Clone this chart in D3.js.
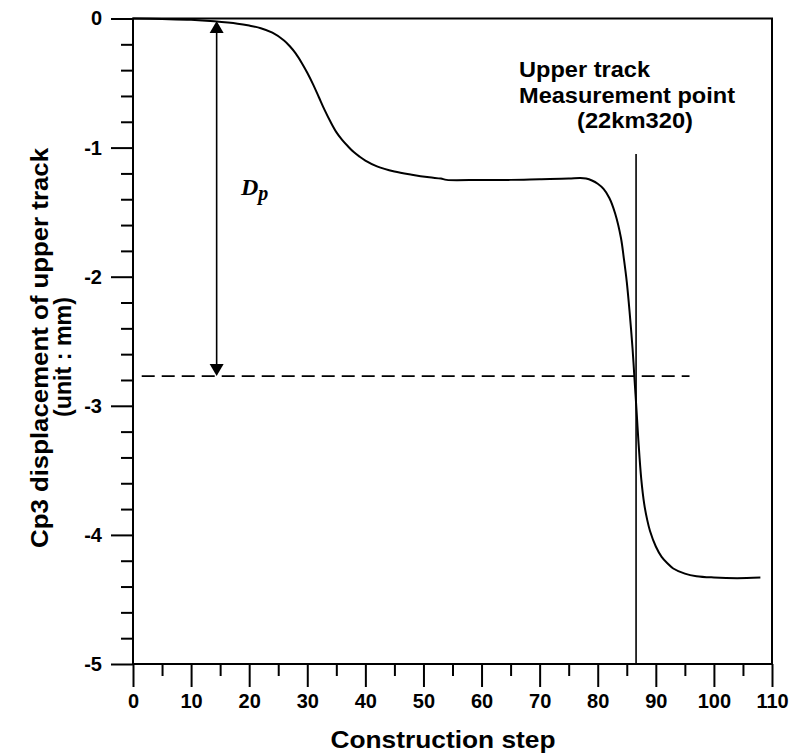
<!DOCTYPE html>
<html>
<head>
<meta charset="UTF-8">
<script src="https://cdn.jsdelivr.net/npm/d3@7"></script>
<style>
body{
  margin:0;
  background-color:#fff;
}
text{
  font-family:"Liberation Sans", Arial, sans-serif;
  font-weight:bold;
}
</style>
</head>
<body>
<script>
// Cp3 settlement of the upper track vs construction step

var steps = [0, 5, 10, 14, 18, 20, 22, 24, 26, 27, 28, 29, 30, 31, 32, 33, 34, 35, 36, 37, 38, 39, 40, 42, 45, 48, 51, 53, 54, 60, 65, 70, 75, 77, 78, 79, 80, 81, 82, 83, 84, 84.5, 85, 85.5, 86, 86.3, 86.7, 87, 87.5, 88, 88.5, 89, 90, 91, 92, 93, 95, 97, 100, 104, 108]
var disp = [0, -0.004, -0.01, -0.022, -0.04, -0.055, -0.075, -0.11, -0.17, -0.215, -0.27, -0.34, -0.42, -0.51, -0.61, -0.71, -0.8, -0.88, -0.94, -0.99, -1.035, -1.07, -1.1, -1.145, -1.185, -1.21, -1.23, -1.24, -1.25, -1.25, -1.25, -1.245, -1.24, -1.235, -1.24, -1.255, -1.28, -1.32, -1.39, -1.51, -1.7, -1.86, -2.04, -2.28, -2.56, -2.77, -3.05, -3.27, -3.57, -3.76, -3.88, -3.97, -4.09, -4.17, -4.22, -4.26, -4.3, -4.32, -4.33, -4.335, -4.33]

var xTicks = [0, 10, 20, 30, 40, 50, 60, 70, 80, 90, 100, 110]
var yTicks = [0, -1, -2, -3, -4, -5]

var measureStep = 86.6     // vertical marker (22km320)
var measureTop = -1.05
var dpLevel = -2.77        // dashed line level
var dashEnd = 95.8
var arrowStep = 14.4
var arrowTop = -0.02

var width = 798, height = 755

var svg = d3.select('body')
    .append('svg')
    .attr('width', width)
    .attr('height', height)

var x = d3.scaleLinear().domain([0, 110]).range([133, 772])
var y = d3.scaleLinear().domain([0, -5]).range([18.5, 664])

// frame
svg.append("rect")
  .attr("x", x(0))
  .attr("y", y(0))
  .attr("width", x(110) - x(0))
  .attr("height", y(-5) - y(0))
  .attr("fill", "none")
  .attr("stroke", "#000")
  .attr("stroke-width", 2)

// axes
var xAxis = svg.append("g")
  .attr("transform", "translate(0," + y(-5) + ")")
xAxis.call(d3.axisBottom(x).tickValues(d3.range(5, 110, 10)).tickSize(12).tickFormat(""))
xAxis.call(g => g.append("g").call(d3.axisBottom(x).tickValues(xTicks).tickSize(23).tickFormat(d3.format("d"))))
xAxis.selectAll(".domain").remove()
xAxis.selectAll("line").attr("stroke", "#000").attr("stroke-width", 2)
xAxis.selectAll("text")
  .attr("fill", "#000")
  .attr("font-size", 20)
  .attr("y", 30)
  .attr("dy", "0.71em")

var minorY = d3.range(0, -5.01, -0.2).filter(v => Math.abs(v - Math.round(v)) > 0.01)
var yAxis = svg.append("g")
  .attr("transform", "translate(" + x(0) + ",0)")
yAxis.call(d3.axisLeft(y).tickValues(minorY).tickSize(12).tickFormat(""))
yAxis.call(g => g.append("g").call(d3.axisLeft(y).tickValues(yTicks).tickSize(22).tickFormat(d => d == 0 ? "0" : "-" + Math.abs(d))))
yAxis.selectAll(".domain").remove()
yAxis.selectAll("line").attr("stroke", "#000").attr("stroke-width", 2)
yAxis.selectAll("text")
  .attr("fill", "#000")
  .attr("font-size", 20)
  .attr("x", -31)

// axis titles
svg.append("text")
  .attr("x", 443)
  .attr("y", 748)
  .attr("text-anchor", "middle")
  .attr("font-size", 24)
  .attr("textLength", 225)
  .attr("lengthAdjust", "spacingAndGlyphs")
  .text("Construction step")

svg.append("text")
  .attr("transform", "translate(48,348) rotate(-90)")
  .attr("text-anchor", "middle")
  .attr("font-size", 24)
  .attr("textLength", 400)
  .attr("lengthAdjust", "spacingAndGlyphs")
  .text("Cp3 displacement of upper track")

svg.append("text")
  .attr("transform", "translate(71,357) rotate(-90)")
  .attr("text-anchor", "middle")
  .attr("font-size", 24)
  .attr("textLength", 120)
  .attr("lengthAdjust", "spacingAndGlyphs")
  .text("(unit : mm)")

// curve
var pts = steps.map((s, i) => [s, disp[i]])
svg.append("path")
  .datum(pts)
  .attr("fill", "none")
  .attr("stroke", "#000")
  .attr("stroke-width", 2)
  .attr("d", d3.line().x(d => x(d[0])).y(d => y(d[1])).curve(d3.curveCatmullRom.alpha(0.5)))

// measurement point marker
svg.append("line")
  .attr("x1", x(measureStep)).attr("x2", x(measureStep))
  .attr("y1", y(measureTop)).attr("y2", y(-5))
  .attr("stroke", "#000")
  .attr("stroke-width", 1.6)

// dashed level line
svg.append("line")
  .attr("x1", x(1.5)).attr("x2", x(dashEnd))
  .attr("y1", y(dpLevel)).attr("y2", y(dpLevel))
  .attr("stroke", "#000")
  .attr("stroke-width", 1.6)
  .attr("stroke-dasharray", "13,7")

// Dp double arrow
var ax = x(arrowStep)
svg.append("line")
  .attr("x1", ax).attr("x2", ax)
  .attr("y1", y(arrowTop) + 8).attr("y2", y(dpLevel) - 8)
  .attr("stroke", "#000")
  .attr("stroke-width", 1.6)
svg.append("path")
  .attr("d", "M" + ax + "," + y(arrowTop) + "L" + (ax - 7) + "," + (y(arrowTop) + 12) + "L" + (ax + 7) + "," + (y(arrowTop) + 12) + "Z")
  .attr("fill", "#000")
svg.append("path")
  .attr("d", "M" + ax + "," + y(dpLevel) + "L" + (ax - 7) + "," + (y(dpLevel) - 12) + "L" + (ax + 7) + "," + (y(dpLevel) - 12) + "Z")
  .attr("fill", "#000")

var dp = svg.append("text")
  .attr("x", 241)
  .attr("y", 195)
  .style("font-family", "'Liberation Serif', 'DejaVu Serif', serif")
  .style("font-style", "italic")
  .attr("font-size", 24)
dp.append("tspan").text("D")
dp.append("tspan").attr("dy", 5).attr("font-size", 20).text("p")

// annotation
var note = svg.append("g").attr("font-size", 22)
note.append("text").attr("x", 519).attr("y", 77)
  .attr("textLength", 131).attr("lengthAdjust", "spacingAndGlyphs").text("Upper track")
note.append("text").attr("x", 519).attr("y", 103)
  .attr("textLength", 216).attr("lengthAdjust", "spacingAndGlyphs").text("Measurement point")
note.append("text").attr("x", 635).attr("y", 128).attr("text-anchor", "middle")
  .attr("textLength", 116).attr("lengthAdjust", "spacingAndGlyphs").text("(22km320)")
</script>
</body>
</html>
